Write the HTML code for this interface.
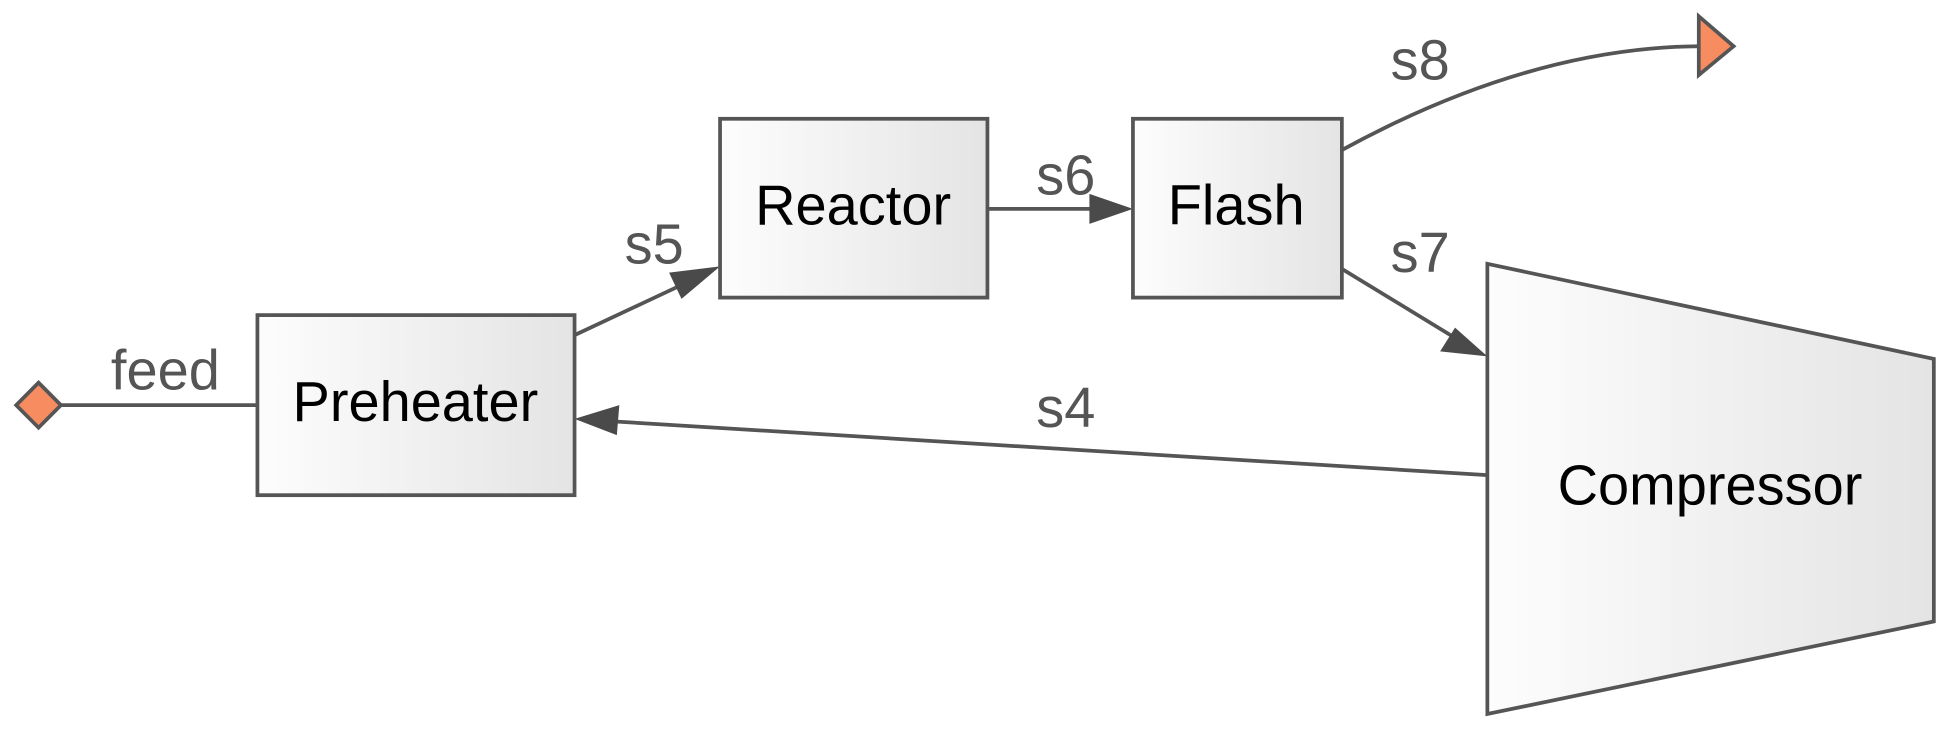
<!DOCTYPE html>
<html><head><style>html,body{margin:0;padding:0;background:#fff}svg{display:block}</style></head>
<body>
<svg width="1950" height="729" viewBox="0 0 1568 583" preserveAspectRatio="none" xmlns="http://www.w3.org/2000/svg">
<defs>
<linearGradient id="g" x1="0" y1="0" x2="1" y2="0"><stop offset="0" stop-color="#fdfdfd"/><stop offset="1" stop-color="#e4e4e4"/></linearGradient>
</defs>
<g stroke="#555" stroke-width="3" fill="none">
<line x1="49" y1="324" x2="207" y2="324"/>
<line x1="462" y1="268" x2="550" y2="227"/>
<line x1="794" y1="167" x2="880" y2="167"/>
<line x1="1079" y1="215" x2="1168" y2="269"/>
<line x1="1196" y1="380" x2="493" y2="337"/>
<path d="M1079,120 Q1230,38 1366,37"/>
</g>
<g fill="#4a4a4a">
<polygon points="579,213 548,239 538,218"/>
<polygon points="911,167 876,179 876,155"/>
<polygon points="1196,285 1158,281 1170,262"/>
<polygon points="462,335 498,324 496,348"/>
</g>
<polygon points="13,324 31,306 49,324 31,342" fill="#f68c5f" stroke="#555" stroke-width="3"/>
<polygon points="1366,13 1394,37 1366,60" fill="#f68c5f" stroke="#555" stroke-width="3"/>
<g fill="url(#g)" stroke="#555" stroke-width="3">
<rect x="207" y="252" width="255" height="144"/>
<rect x="579" y="95" width="215" height="143"/>
<rect x="911" y="95" width="168" height="143"/>
<polygon points="1196,211 1555,287 1555,497 1196,571"/>
</g>
<g font-family="Liberation Sans, sans-serif" font-size="45" text-anchor="middle" dominant-baseline="central">
<text x="334" y="321" fill="#000">Preheater</text>
<text x="686" y="164" fill="#000">Reactor</text>
<text x="994" y="164" fill="#000">Flash</text>
<text x="1375" y="388" fill="#000">Compressor</text>
<g fill="#555">
<text x="133" y="296">feed</text>
<text x="526" y="195">s5</text>
<text x="857" y="140">s6</text>
<text x="1142" y="202">s7</text>
<text x="857" y="326">s4</text>
<text x="1142" y="48">s8</text>
</g>
</g>
</svg>
</body></html>
